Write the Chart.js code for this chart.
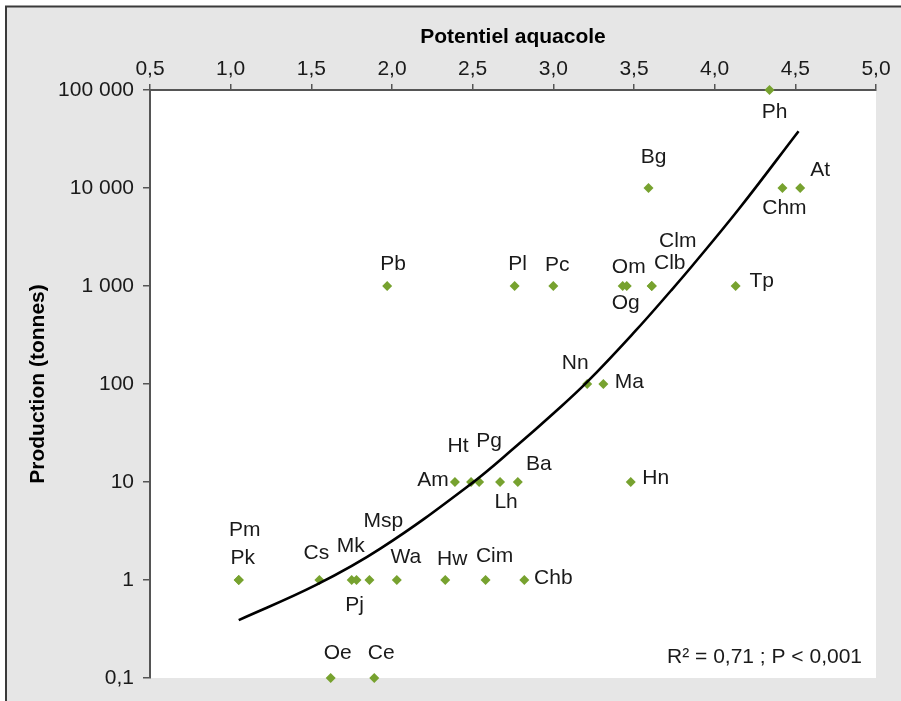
<!DOCTYPE html>
<html>
<head>
<meta charset="utf-8">
<script src="https://cdn.jsdelivr.net/npm/chart.js@4/dist/chart.umd.min.js"></script>
<style>
  html, body { margin: 0; padding: 0; background: #fff; }
  canvas { display: block; }
</style>
</head>
<body>
<canvas id="aquaChart" width="901" height="701"></canvas>
<script>
// Espèces (codes), potentiel aquacole et production (tonnes)
const especes = ['Ph', 'Bg', 'Chm', 'At', 'Pb', 'Pl', 'Pc', 'Om', 'Og', 'Clm', 'Clb', 'Tp',
  'Nn', 'Ma', 'Am', 'Ht', 'Pg', 'Lh', 'Ba', 'Hn', 'Pm', 'Pk', 'Cs', 'Mk', 'Pj', 'Msp',
  'Wa', 'Hw', 'Cim', 'Chb', 'Oe', 'Ce'];
const potentiel = [4.34, 3.59, 4.42, 4.53, 1.97, 2.76, 3.00, 3.43, 3.455, 3.61, 3.61, 4.13,
  3.21, 3.31, 2.39, 2.49, 2.54, 2.67, 2.78, 3.48, 1.05, 1.05, 1.55, 1.75, 1.78, 1.86,
  2.03, 2.33, 2.58, 2.82, 1.62, 1.89];
const production = [100000, 10000, 10000, 10000, 1000, 1000, 1000, 1000, 1000, 1000, 1000, 1000,
  100, 100, 10, 10, 10, 10, 10, 10, 1, 1, 1, 1, 1, 1,
  1, 1, 1, 1, 0.1, 0.1];

// Courbe de tendance
const trendX = [1.05, 1.53, 1.93, 2.48, 2.78, 3.00, 3.21, 3.51, 3.73, 3.86, 4.15, 4.52];
const trendY = [0.39, 0.89, 2.1, 9.3, 24, 50, 105, 350, 900, 1600, 6100, 38000];

// Graduations
const xTicks = [0.5, 1.0, 1.5, 2.0, 2.5, 3.0, 3.5, 4.0, 4.5, 5.0];
const yTicks = [0.1, 1, 10, 100, 1000, 10000, 100000];

// Placement des étiquettes (décalage en px par rapport au point)
const labelOffset = {
  Ph: [5, 22], Bg: [5, -31], Chm: [2, 20], At: [20, -18],
  Pb: [6, -22], Pl: [3, -22], Pc: [4, -21], Om: [6, -19], Og: [-1, 17],
  Clm: [26, -45], Clb: [18, -23], Tp: [26, -5], Nn: [-12, -21], Ma: [26, -2],
  Am: [-22, -2], Ht: [-13, -36], Pg: [10, -41], Lh: [6, 20], Ba: [21, -18], Hn: [25, -4],
  Pm: [6, -50], Pk: [4, -22], Cs: [-3, -27], Mk: [-1, -34], Pj: [-2, 25], Msp: [14, -59],
  Wa: [9, -23], Hw: [7, -21], Cim: [9, -24], Chb: [29, -2], Oe: [7, -25], Ce: [7, -25],
};

const FONT = '"Liberation Sans", Arial, Helvetica, sans-serif';
const TEXT = '#1a1a1a';
const AXIS = '#555555';

const fmtNum = v => {
  if (v < 1) return String(v).replace('.', ',');
  return String(v).replace(/\B(?=(\d{3})+(?!\d))/g, ' ');
};

const backgroundPlugin = {
  id: 'fond',
  beforeDraw(chart) {
    const { ctx, chartArea: a, width, height } = chart;
    ctx.save();
    ctx.fillStyle = '#ffffff';
    ctx.fillRect(0, 0, width, height);
    ctx.fillStyle = '#e6e6e6';
    ctx.fillRect(6, 7, width - 6, height - 7);
    ctx.strokeStyle = '#3a3a3a';
    ctx.lineWidth = 2;
    ctx.beginPath();
    ctx.moveTo(6, height);
    ctx.lineTo(6, 6.5);
    ctx.lineTo(width, 6.5);
    ctx.stroke();
    ctx.fillStyle = '#ffffff';
    ctx.fillRect(a.left, a.top, a.right - a.left, a.bottom - a.top);
    ctx.restore();
  }
};

const labelsPlugin = {
  id: 'etiquettes',
  afterDatasetsDraw(chart) {
    const { ctx, chartArea: a } = chart;
    const meta = chart.getDatasetMeta(1);
    ctx.save();
    ctx.font = '21px ' + FONT;
    ctx.fillStyle = TEXT;
    ctx.textAlign = 'center';
    ctx.textBaseline = 'middle';
    meta.data.forEach((pt, i) => {
      const name = especes[i];
      const off = labelOffset[name] || [0, -20];
      ctx.fillText(name, pt.x + off[0], pt.y + off[1]);
    });
    ctx.textAlign = 'right';
    ctx.fillText('R² = 0,71 ; P < 0,001', a.right - 14, a.bottom - 21);
    ctx.restore();
  }
};

new Chart(document.getElementById('aquaChart'), {
  type: 'scatter',
  data: {
    datasets: [
      {
        label: 'Tendance',
        data: trendX.map((x, i) => ({ x, y: trendY[i] })),
        showLine: true,
        borderColor: '#000000',
        borderWidth: 2.6,
        pointRadius: 0,
        tension: 0.4,
        fill: false,
      },
      {
        label: 'Espèces',
        data: potentiel.map((x, i) => ({ x, y: production[i] })),
        pointStyle: 'rectRot',
        pointRadius: 5,
        pointBorderWidth: 0,
        backgroundColor: '#77a22f',
        borderColor: '#77a22f',
      },
    ]
  },
  options: {
    responsive: false,
    devicePixelRatio: 1,
    animation: false,
    clip: false,
    layout: { padding: { left: 0, top: 0, right: 25, bottom: 23 } },
    plugins: {
      legend: { display: false },
      tooltip: { enabled: false },
    },
    scales: {
      x: {
        type: 'linear',
        position: 'top',
        min: 0.5,
        max: 5,
        afterBuildTicks: s => { s.ticks = xTicks.map(v => ({ value: v })); },
        afterFit: s => { s.height = 90; },
        ticks: {
          font: { family: FONT, size: 21 },
          color: TEXT,
          padding: 2,
          maxRotation: 0,
          callback: v => v.toFixed(1).replace('.', ','),
        },
        grid: { drawOnChartArea: false, drawTicks: true, tickLength: 6, color: AXIS, lineWidth: 1.5 },
        border: { display: true, color: AXIS, width: 2 },
        title: {
          display: true,
          text: 'Potentiel aquacole',
          font: { family: FONT, size: 21, weight: 'bold' },
          color: '#000',
          padding: { top: 25, bottom: 0 },
        },
      },
      y: {
        type: 'logarithmic',
        min: 0.1,
        max: 100000,
        afterBuildTicks: s => { s.ticks = yTicks.map(v => ({ value: v })); },
        afterFit: s => { s.width = 150; },
        ticks: {
          font: { family: FONT, size: 21 },
          color: TEXT,
          padding: 9,
          callback: v => fmtNum(v),
        },
        grid: { drawOnChartArea: false, drawTicks: true, tickLength: 7, color: AXIS, lineWidth: 1.5 },
        border: { display: true, color: AXIS, width: 2 },
        title: {
          display: true,
          text: 'Production (tonnes)',
          font: { family: FONT, size: 21, weight: 'bold' },
          color: '#000',
          padding: { top: 26, bottom: 0 },
        },
      },
    },
  },
  plugins: [backgroundPlugin, labelsPlugin],
});
</script>
</body>
</html>
